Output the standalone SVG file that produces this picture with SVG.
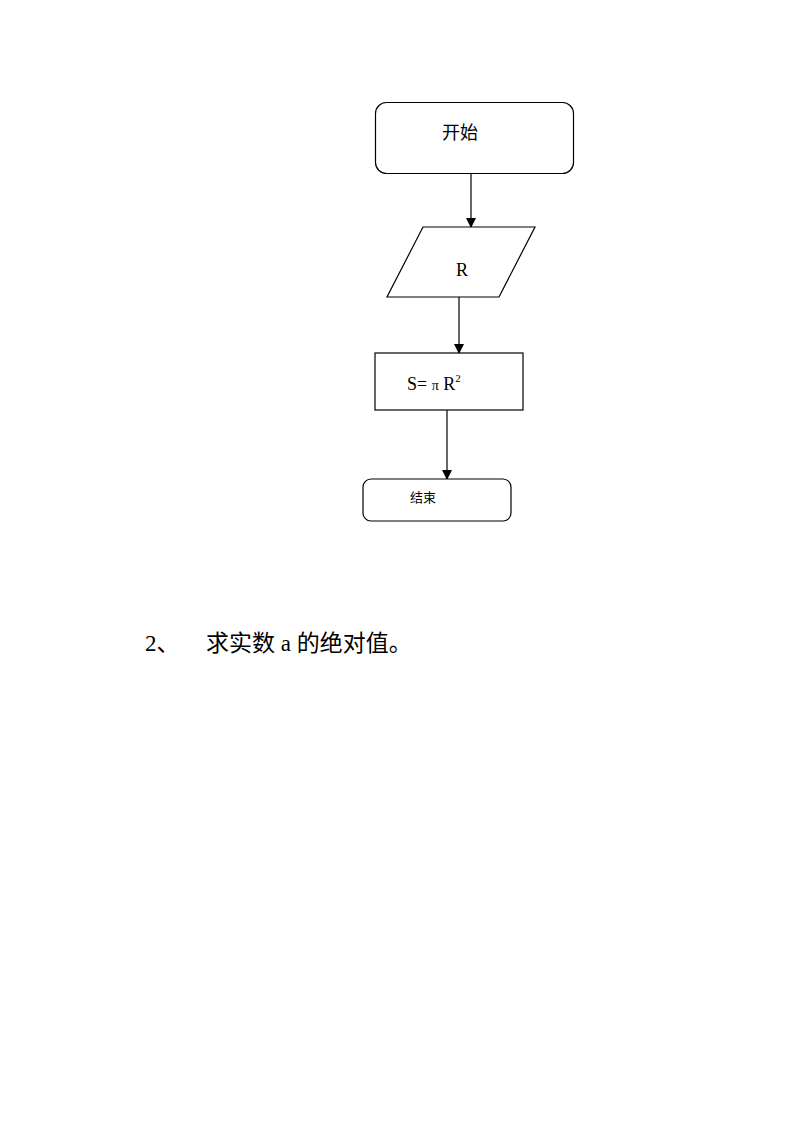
<svg xmlns="http://www.w3.org/2000/svg" width="800" height="1132" viewBox="0 0 800 1132">
<style>
.s{fill:#fff;stroke:#000;stroke-width:1.2}
.t{font-family:"Liberation Serif","Noto Sans CJK SC",serif;fill:#000}
.c{stroke:#000;stroke-width:1.2;fill:none}
</style>
<defs>
<marker id="a" markerWidth="10" markerHeight="10" refX="9" refY="5" orient="auto" markerUnits="userSpaceOnUse">
<path d="M0,0 L10,5 L0,10 Z" fill="#000"/>
</marker>
</defs>
<rect width="800" height="1132" fill="#fff"/>
<g id="connectors">
<line class="c" x1="471" y1="173" x2="471" y2="227" marker-end="url(#a)"/>
<line class="c" x1="459" y1="297" x2="459" y2="353" marker-end="url(#a)"/>
<line class="c" x1="447" y1="410" x2="447" y2="479" marker-end="url(#a)"/>
</g>
<g id="start">
<rect class="s" x="375.5" y="102.5" width="198" height="71" rx="11"/>
<text class="t" x="460" y="139" font-size="18" text-anchor="middle">开始</text>
</g>
<g id="input">
<polygon class="s" points="423,227 535,227 499,297 387,297"/>
<text class="t" x="462" y="276" font-size="18" text-anchor="middle">R</text>
</g>
<g id="process">
<rect class="s" x="375" y="353" width="148" height="57"/>
<text class="t" x="407" y="390" font-size="18">S= <tspan font-size="14">π</tspan> R<tspan font-size="11" dy="-8">2</tspan></text>
</g>
<g id="end">
<rect class="s" x="363" y="479" width="148" height="42" rx="8"/>
<text class="t" x="410" y="502" font-size="13">结束</text>
</g>
<text class="t" x="145" y="651" font-size="23">2、</text>
<text class="t" x="206" y="651" font-size="23">求实数 a 的绝对值。</text>
</svg>
